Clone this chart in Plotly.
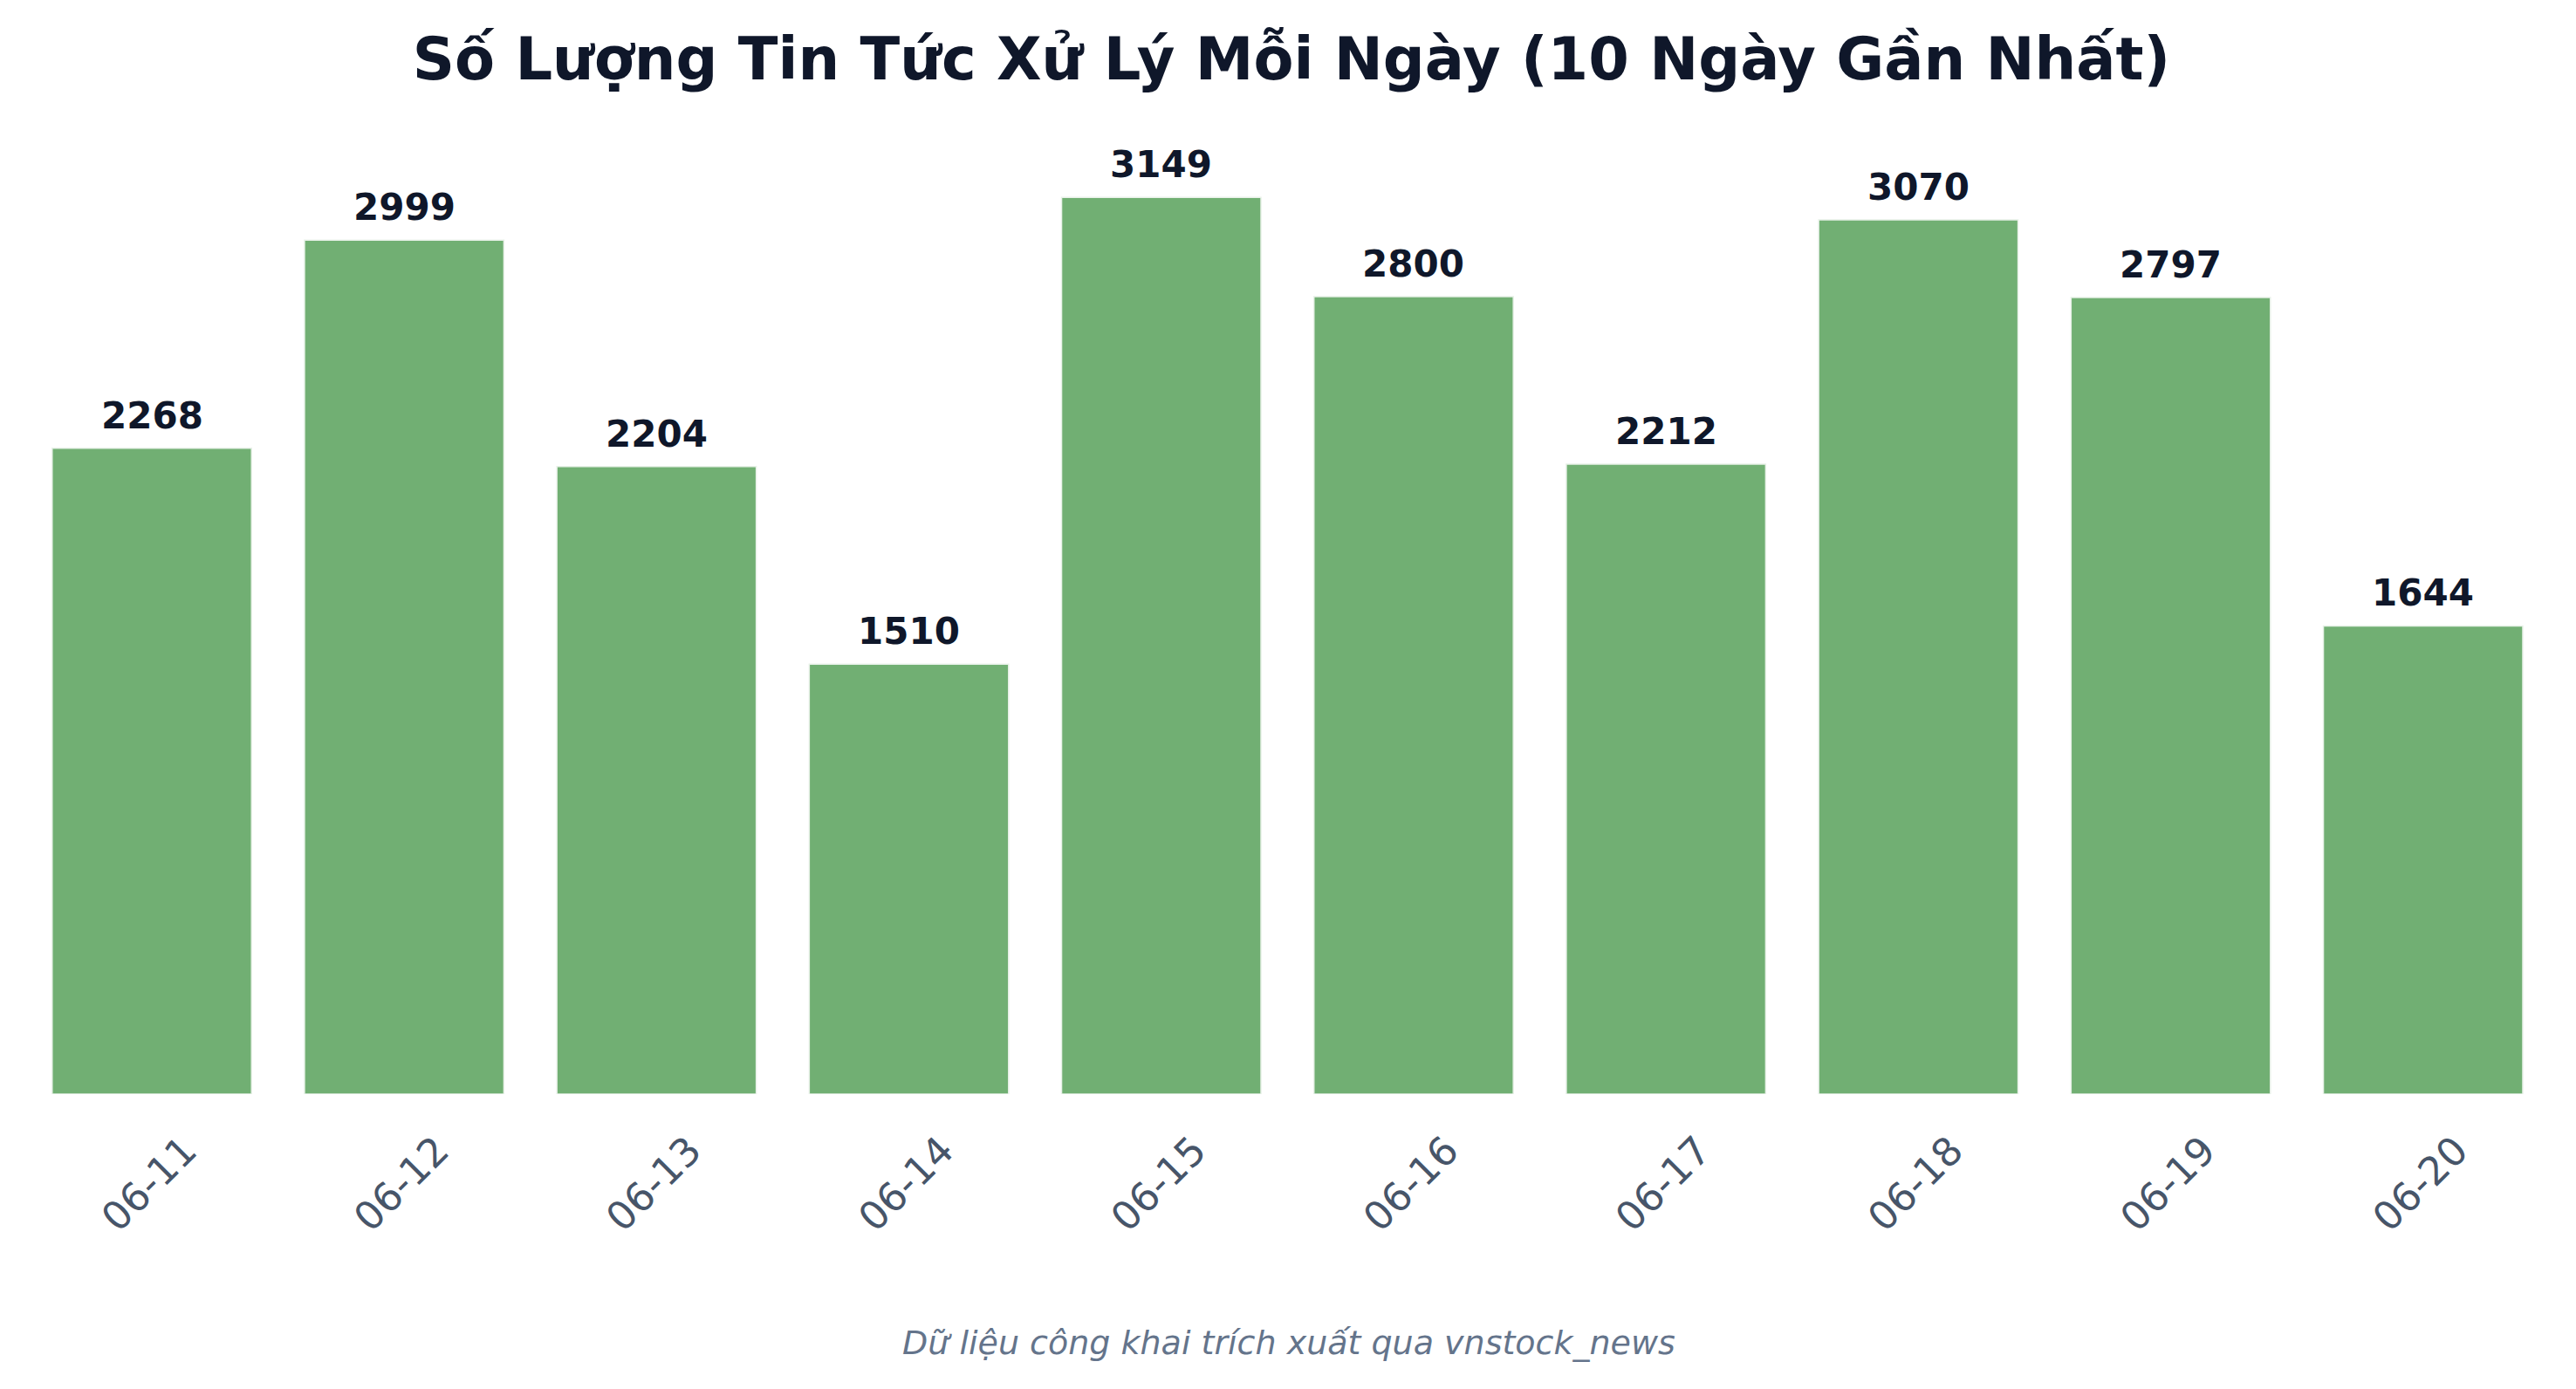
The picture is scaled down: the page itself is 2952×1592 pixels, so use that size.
import plotly.graph_objects as go

dates = ["06-11", "06-12", "06-13", "06-14", "06-15", "06-16", "06-17", "06-18", "06-19", "06-20"]
counts = [2268, 2999, 2204, 1510, 3149, 2800, 2212, 3070, 2797, 1644]

title_text = "Số Lượng Tin Tức Xử Lý Mỗi Ngày (10 Ngày Gần Nhất)"
footer_text = "Dữ liệu công khai trích xuất qua vnstock_news"

BAR_COLOR = "#71af73"
TITLE_COLOR = "#0f172a"
TICK_COLOR = "#475569"
FOOT_COLOR = "#64748b"
FONT = "DejaVu Sans"

# page has an 8px body margin, so the figure is sized to fit inside it
W, H = 2944, 1584
TOP, BOTTOM = 71, 338

fig = go.Figure()
fig.add_trace(go.Bar(
    x=list(range(len(dates))),
    y=counts,
    marker=dict(color=BAR_COLOR, line=dict(color="#e8f1e8", width=1.5)),
    hoverinfo="skip",
))

for i, v in enumerate(counts):
    fig.add_annotation(
        x=i, y=v, xref="x", yref="y",
        text=f"<b>{v}</b>", showarrow=False,
        yanchor="bottom", yshift=11,
        font=dict(family=FONT, size=42, color=TITLE_COLOR),
    )

fig.add_annotation(
    x=0.499, y=-0.2425, xref="paper", yref="paper",
    text=f"<i>{footer_text}</i>", showarrow=False,
    xanchor="center", yanchor="middle",
    font=dict(family=FONT, size=38, color=FOOT_COLOR),
)

fig.update_layout(
    width=W, height=H,
    margin=dict(l=0, r=0, t=TOP, b=BOTTOM),
    paper_bgcolor="white", plot_bgcolor="white",
    bargap=0.21,
    showlegend=False,
    title=dict(
        text=f"<b>{title_text}</b>",
        x=0.5, xanchor="center", xref="container",
        y=1 - 60 / H, yanchor="middle", yref="container",
        font=dict(family=FONT, size=67, color=TITLE_COLOR),
    ),
    xaxis=dict(
        range=[-0.574, 9.606],
        tickmode="array",
        tickvals=list(range(len(dates))),
        ticktext=dates,
        tickangle=-45,
        tickfont=dict(family=FONT, size=45, color=TICK_COLOR),
        showgrid=False, zeroline=False, showline=False, ticks="",
        ticklabelshift=38,
        ticklabelstandoff=28,
    ),
    yaxis=dict(
        range=[0, 3600],
        showgrid=False, zeroline=False, showline=False,
        showticklabels=False, ticks="",
    ),
)

fig.write_html("out.html")
